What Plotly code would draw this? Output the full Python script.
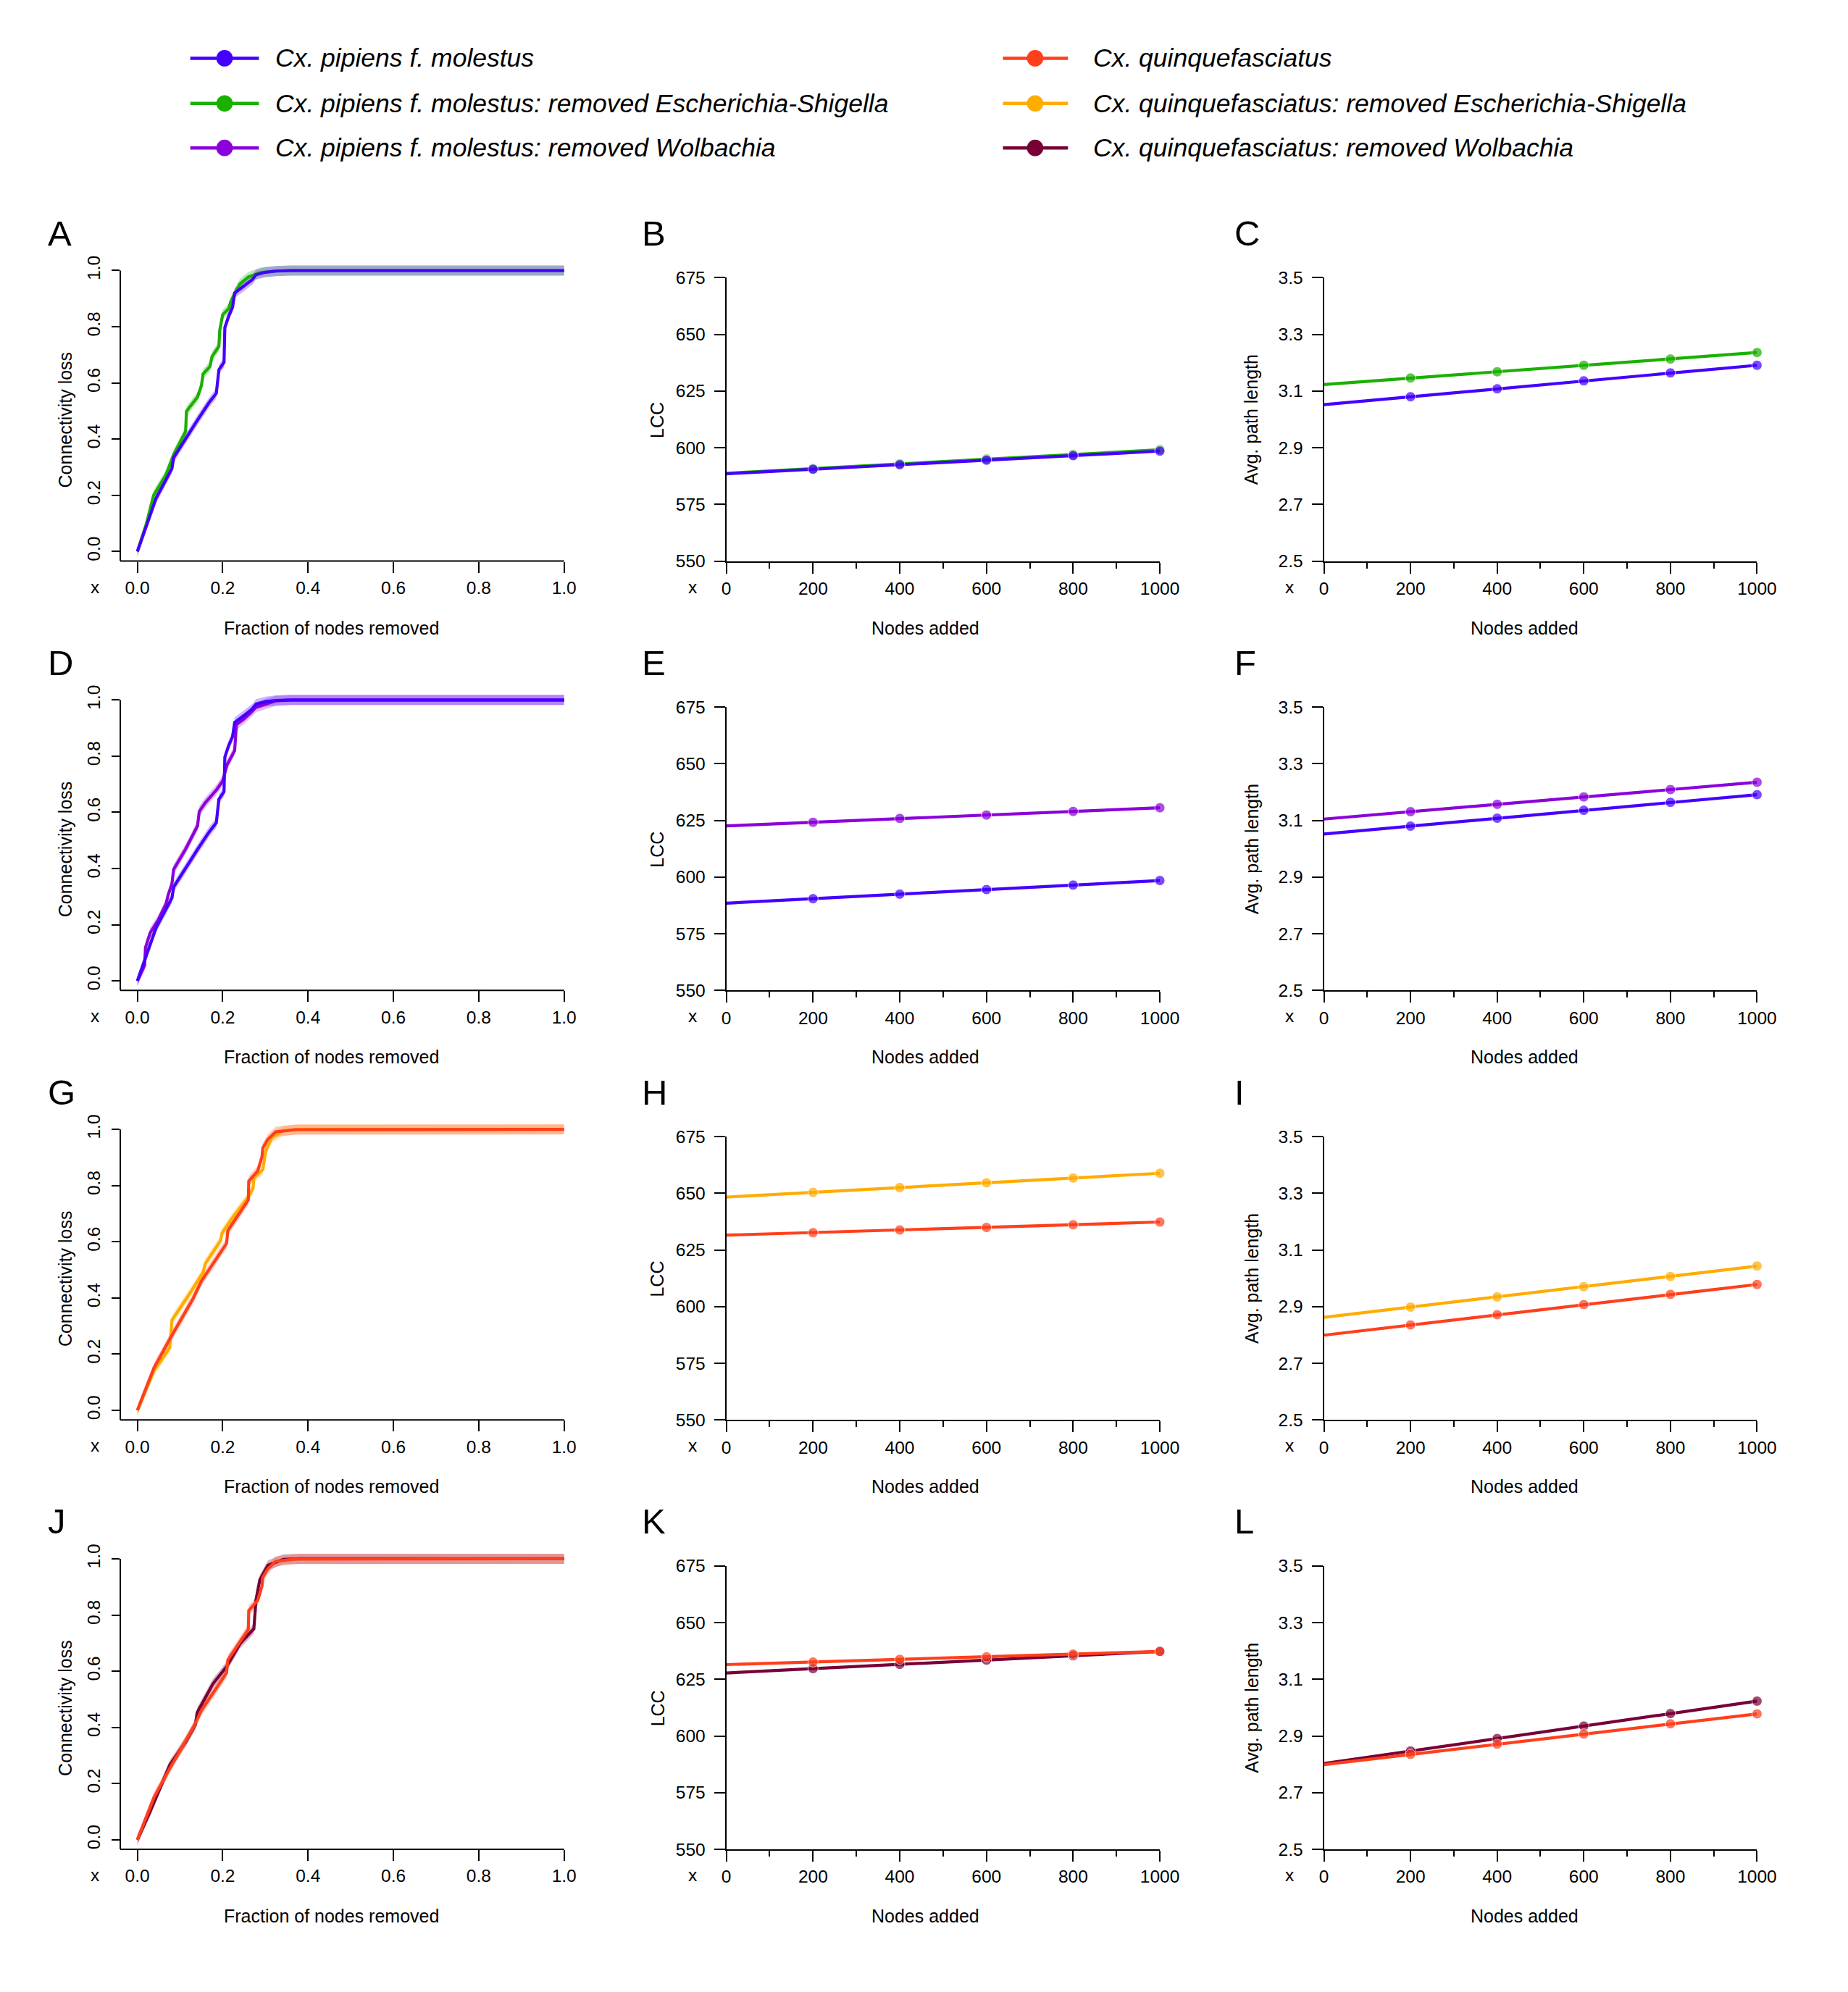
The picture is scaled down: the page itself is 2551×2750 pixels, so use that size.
import plotly.graph_objects as go

W, H = 2551, 2750
FONT = "Liberation Sans, Arial, Helvetica, sans-serif"

# ---------------- data ----------------
# Connectivity loss curves (fraction of nodes removed vs. connectivity loss)
frac_molestus = [0, 0.044, 0.081, 0.085, 0.141, 0.168, 0.185, 0.187, 0.191, 0.203, 0.205,
                 0.214, 0.223, 0.228, 0.246, 0.269, 0.278, 0.300, 0.324, 0.36, 1.0]
loss_molestus = [0, 0.19, 0.295, 0.334, 0.468, 0.53, 0.563, 0.59, 0.647, 0.673, 0.797,
                 0.838, 0.869, 0.92, 0.941, 0.967, 0.985, 0.994, 0.998, 1.0, 1.0]

frac_molestus_esch = [0, 0.021, 0.038, 0.067, 0.085, 0.113, 0.115, 0.141, 0.150, 0.154, 0.170,
                      0.175, 0.191, 0.193, 0.200, 0.214, 0.219, 0.240, 0.260, 0.288, 0.324, 0.36, 1.0]
loss_molestus_esch = [0, 0.098, 0.2, 0.273, 0.345, 0.427, 0.499, 0.55, 0.59, 0.632, 0.658,
                      0.694, 0.73, 0.787, 0.843, 0.864, 0.89, 0.952, 0.977, 0.993, 0.998, 1.0, 1.0]

frac_molestus_wol = [0, 0.017, 0.019, 0.030, 0.049, 0.067, 0.072, 0.081, 0.085, 0.113, 0.141,
                     0.145, 0.159, 0.186, 0.200, 0.210, 0.228, 0.232, 0.250, 0.278, 0.324, 0.36, 1.0]
loss_molestus_wol = [0, 0.055, 0.119, 0.171, 0.217, 0.274, 0.305, 0.346, 0.397, 0.469, 0.552,
                     0.603, 0.634, 0.681, 0.712, 0.769, 0.82, 0.912, 0.933, 0.974, 0.997, 1.0, 1.0]

frac_quinq = [0, 0.012, 0.039, 0.076, 0.099, 0.131, 0.150, 0.191, 0.209, 0.212, 0.232,
              0.260, 0.261, 0.282, 0.292, 0.294, 0.306, 0.324, 0.37, 1.0]
loss_quinq = [0, 0.048, 0.151, 0.254, 0.316, 0.399, 0.46, 0.553, 0.594, 0.64, 0.686,
              0.749, 0.816, 0.852, 0.903, 0.934, 0.965, 0.991, 0.999, 1.0]

frac_quinq_esch = [0, 0.039, 0.076, 0.081, 0.122, 0.154, 0.159, 0.195, 0.198, 0.223,
                   0.260, 0.271, 0.273, 0.294, 0.301, 0.315, 0.342, 0.38, 1.0]
loss_quinq_esch = [0, 0.141, 0.223, 0.321, 0.414, 0.491, 0.522, 0.604, 0.63, 0.686,
                   0.759, 0.79, 0.826, 0.857, 0.924, 0.97, 0.996, 1.0, 1.0]

frac_quinq_wol = [0, 0.030, 0.076, 0.113, 0.136, 0.140, 0.177, 0.209, 0.241, 0.273,
                  0.278, 0.287, 0.306, 0.342, 0.38, 1.0]
loss_quinq_wol = [0, 0.101, 0.266, 0.348, 0.41, 0.452, 0.555, 0.616, 0.699, 0.751,
                  0.854, 0.926, 0.977, 0.998, 1.0, 1.0]

BAND = 0.018  # half-width of the shaded uncertainty ribbon

# Nodes added vs LCC / average path length
nodes = [0, 200, 400, 600, 800, 1000]
lcc_molestus = [588.5, 590.5, 592.5, 594.5, 596.5, 598.5]
lcc_molestus_esch = [588.7, 590.8, 592.9, 595.0, 597.0, 599.1]
lcc_molestus_wol = [622.6, 624.2, 625.9, 627.4, 629.0, 630.6]
lcc_quinq = [631.5, 632.6, 633.8, 634.9, 636.1, 637.3]
lcc_quinq_esch = [648.3, 650.4, 652.5, 654.6, 656.7, 658.8]
lcc_quinq_wol = [627.8, 629.7, 631.6, 633.5, 635.4, 637.3]

apl_molestus = [3.052, 3.080, 3.108, 3.136, 3.164, 3.191]
apl_molestus_esch = [3.123, 3.146, 3.168, 3.191, 3.213, 3.236]
apl_molestus_wol = [3.105, 3.131, 3.157, 3.183, 3.209, 3.235]
apl_quinq = [2.799, 2.835, 2.871, 2.907, 2.943, 2.978]
apl_quinq_esch = [2.862, 2.898, 2.934, 2.970, 3.006, 3.043]
apl_quinq_wol = [2.803, 2.847, 2.891, 2.935, 2.979, 3.023]

# tick labels
frac_ticks = [0.0, 0.2, 0.4, 0.6, 0.8, 1.0]
loss_ticks = [0.0, 0.2, 0.4, 0.6, 0.8, 1.0]
node_ticks = [0, 200, 400, 600, 800, 1000]
lcc_ticks = [550, 575, 600, 625, 650, 675]
apl_ticks = [2.5, 2.7, 2.9, 3.1, 3.3, 3.5]

# colours / names
C_MOL = "#4400FF"
C_MOL_E = "#1AB000"
C_MOL_W = "#8B00DB"
C_QUI = "#FF3F1C"
C_QUI_E = "#FFAC00"
C_QUI_W = "#780036"

legend_items = [
    ("Cx. pipiens f. molestus", C_MOL, 0, 0),
    ("Cx. pipiens f. molestus: removed Escherichia-Shigella", C_MOL_E, 0, 1),
    ("Cx. pipiens f. molestus: removed Wolbachia", C_MOL_W, 0, 2),
    ("Cx. quinquefasciatus", C_QUI, 1, 0),
    ("Cx. quinquefasciatus: removed Escherichia-Shigella", C_QUI_E, 1, 1),
    ("Cx. quinquefasciatus: removed Wolbachia", C_QUI_W, 1, 2),
]

rows = [
    ("ABC", (frac_molestus_esch, loss_molestus_esch, C_MOL_E), (frac_molestus, loss_molestus, C_MOL),
     (lcc_molestus_esch, C_MOL_E), (lcc_molestus, C_MOL), (apl_molestus_esch, C_MOL_E), (apl_molestus, C_MOL)),
    ("DEF", (frac_molestus_wol, loss_molestus_wol, C_MOL_W), (frac_molestus, loss_molestus, C_MOL),
     (lcc_molestus_wol, C_MOL_W), (lcc_molestus, C_MOL), (apl_molestus_wol, C_MOL_W), (apl_molestus, C_MOL)),
    ("GHI", (frac_quinq_esch, loss_quinq_esch, C_QUI_E), (frac_quinq, loss_quinq, C_QUI),
     (lcc_quinq_esch, C_QUI_E), (lcc_quinq, C_QUI), (apl_quinq_esch, C_QUI_E), (apl_quinq, C_QUI)),
    ("JKL", (frac_quinq_wol, loss_quinq_wol, C_QUI_W), (frac_quinq, loss_quinq, C_QUI),
     (lcc_quinq_wol, C_QUI_W), (lcc_quinq, C_QUI), (apl_quinq_wol, C_QUI_W), (apl_quinq, C_QUI)),
]

# ---------------- layout helpers ----------------
def px(x):
    return x / W


def py(y):
    return 1 - y / H


def rgba(hexc, a):
    h = hexc.lstrip("#")
    return "rgba(%d,%d,%d,%.3f)" % (int(h[0:2], 16), int(h[2:4], 16), int(h[4:6], 16), a)


ROW_BOTTOM = [761 + 598.7 * r for r in range(4)]
PANEL_H = 395
COL1_X0, COL1_X1 = 177, 774     # pixel of x=0 and x=1 in column 1
C1S = COL1_X1 - COL1_X0          # px per unit
Y1S = 391.7                      # px per unit of connectivity loss
COL2 = (1001, 1607.5)
COL3 = (1837, 2443)
LETTER_X = [50, 881, 1710]
XTITLE_X = [448, 1280, 2118]
YTITLE_X = [76, 904.5, 1736]
XMARK_X = [118, 954, 1789]
TICKFONT = dict(family=FONT, size=24.5, color="black")
TITLEFONT = dict(family=FONT, size=25, color="black")
LW = 4.2
MS = 14

fig = go.Figure()
layout = dict(width=W, height=H, margin=dict(l=0, r=0, t=0, b=0),
              paper_bgcolor="white", plot_bgcolor="white", showlegend=False,
              font=dict(family=FONT, color="black"))
shapes = []
annotations = []


def ax_name(k, a):
    return a + ("" if k == 1 else str(k))


for r, (letters, cmpc, basec, lcc_a, lcc_b, apl_a, apl_b) in enumerate(rows):
    b = ROW_BOTTOM[r]
    # ---- column 1 : connectivity loss ----
    k = r * 3 + 1
    xr = [-0.04, 1.008]
    yr = [-0.034, 1.03]
    left_px = COL1_X0 + xr[0] * C1S
    layout[ax_name(k, "xaxis")] = dict(
        domain=[px(left_px), px(COL1_X0 + xr[1] * C1S)], range=xr,
        anchor=ax_name(k, "y"), tickvals=frac_ticks, ticktext=["%.1f" % v for v in frac_ticks],
        ticks="outside", ticklen=15, tickwidth=2, tickcolor="black", showline=False,
        showgrid=False, zeroline=False, tickfont=TICKFONT, ticklabelstandoff=0)
    layout[ax_name(k, "yaxis")] = dict(
        domain=[py(b), py(b - Y1S * (yr[1] - yr[0]))], range=yr,
        anchor=ax_name(k, "x"), tickvals=loss_ticks, ticktext=["%.1f" % v for v in loss_ticks],
        ticks="outside", ticklen=11, tickwidth=2, tickcolor="black", showline=False,
        showgrid=False, zeroline=False, tickfont=TICKFONT, tickangle=-90, ticklabelstandoff=6)
    shapes.append(dict(type="line", xref="paper", yref="paper", x0=px(left_px), x1=px(COL1_X1),
                       y0=py(b), y1=py(b), line=dict(color="black", width=2)))
    shapes.append(dict(type="line", xref="paper", yref="paper", x0=px(left_px), x1=px(left_px),
                       y0=py(b), y1=py(b - Y1S * (1.0 - yr[0])), line=dict(color="black", width=2)))
    for fr, lo, col in (cmpc, basec):
        xs = list(fr) + list(fr)[::-1]
        ys = [v + BAND for v in lo] + [v - BAND for v in lo][::-1]
        fig.add_trace(go.Scatter(x=xs, y=ys, fill="toself", fillcolor=rgba(col, 0.28),
                                 line=dict(width=0), mode="lines", hoverinfo="skip",
                                 xaxis=ax_name(k, "x"), yaxis=ax_name(k, "y")))
    for fr, lo, col in (cmpc, basec):
        fig.add_trace(go.Scatter(x=fr, y=lo, mode="lines", line=dict(color=col, width=LW),
                                 xaxis=ax_name(k, "x"), yaxis=ax_name(k, "y")))

    # ---- columns 2 and 3 ----
    for c, (dom, (va, ca), (vb, cb), yt) in enumerate(
            [(COL2, lcc_a, lcc_b, lcc_ticks), (COL3, apl_a, apl_b, apl_ticks)], start=1):
        k = r * 3 + 1 + c
        layout[ax_name(k, "xaxis")] = dict(
            domain=[px(dom[0]), px(dom[1])], range=[0, 1000], anchor=ax_name(k, "y"),
            tickvals=node_ticks, ticks="outside", ticklen=15, tickwidth=2, tickcolor="black",
            showline=True, linecolor="black", linewidth=2, showgrid=False, zeroline=False,
            tickfont=TICKFONT, ticklabelstandoff=0,
            minor=dict(dtick=100, tick0=0, ticks="outside", ticklen=8, tickwidth=2,
                       tickcolor="black", showgrid=False))
        layout[ax_name(k, "yaxis")] = dict(
            domain=[py(b), py(b - PANEL_H)], range=[yt[0], yt[-1]], anchor=ax_name(k, "x"),
            tickvals=yt, ticktext=[("%.1f" % v) if c == 2 else ("%d" % v) for v in yt],
            ticks="outside", ticklen=15, tickwidth=2, tickcolor="black",
            showline=True, linecolor="black", linewidth=2, showgrid=False, zeroline=False,
            tickfont=TICKFONT, ticklabelstandoff=7)
        for vals, col in ((va, ca), (vb, cb)):
            fig.add_trace(go.Scatter(x=nodes, y=vals, mode="lines+markers",
                                     line=dict(color=col, width=LW),
                                     marker=dict(color=col, size=[0] + [MS] * (len(nodes) - 1)),
                                     cliponaxis=False,
                                     xaxis=ax_name(k, "x"), yaxis=ax_name(k, "y")))

    # ---- text ----
    for c in range(3):
        annotations.append(dict(text=letters[c], x=px(LETTER_X[c]), y=py(b - 457),
                                xref="paper", yref="paper", xanchor="left", yanchor="middle",
                                showarrow=False, font=dict(family=FONT, size=49, color="black")))
        annotations.append(dict(text="Fraction of nodes removed" if c == 0 else "Nodes added",
                                x=px(XTITLE_X[c]), y=py(b + 93), xref="paper", yref="paper",
                                xanchor="center", yanchor="middle", showarrow=False, font=TITLEFONT))
        annotations.append(dict(text=["Connectivity loss", "LCC", "Avg. path length"][c],
                                x=px(YTITLE_X[c]), y=py(b - 197), xref="paper", yref="paper",
                                xanchor="center", yanchor="middle", textangle=-90, showarrow=False,
                                font=TITLEFONT))
        annotations.append(dict(text="x", x=px(XMARK_X[c]), y=py(b + 36), xref="paper", yref="paper",
                                xanchor="center", yanchor="middle", showarrow=False, font=TICKFONT))

# ---------------- legend ----------------
LEG_Y = [60, 123, 185]
LEG_LINE = [(251, 347), (1388, 1479)]
LEG_MARK = [299, 1433]
LEG_TEXT = [368, 1512]
for name, col, cc, rr in legend_items:
    yy = LEG_Y[rr]
    shapes.append(dict(type="line", xref="paper", yref="paper", x0=px(LEG_LINE[cc][0]),
                       x1=px(LEG_LINE[cc][1]), y0=py(yy), y1=py(yy), line=dict(color=col, width=4.5)))
    rad = 11.5
    shapes.append(dict(type="circle", xref="paper", yref="paper", x0=px(LEG_MARK[cc] - rad),
                       x1=px(LEG_MARK[cc] + rad), y0=py(yy + rad), y1=py(yy - rad),
                       fillcolor=col, line=dict(color=col, width=0)))
    annotations.append(dict(text="<i>%s</i>" % name, x=px(LEG_TEXT[cc]), y=py(yy), xref="paper",
                            yref="paper", xanchor="left", yanchor="middle", showarrow=False,
                            font=dict(family=FONT, size=35.5, color="black")))

layout["shapes"] = shapes
layout["annotations"] = annotations
fig.update_layout(**layout)
fig.write_html("out.html")
